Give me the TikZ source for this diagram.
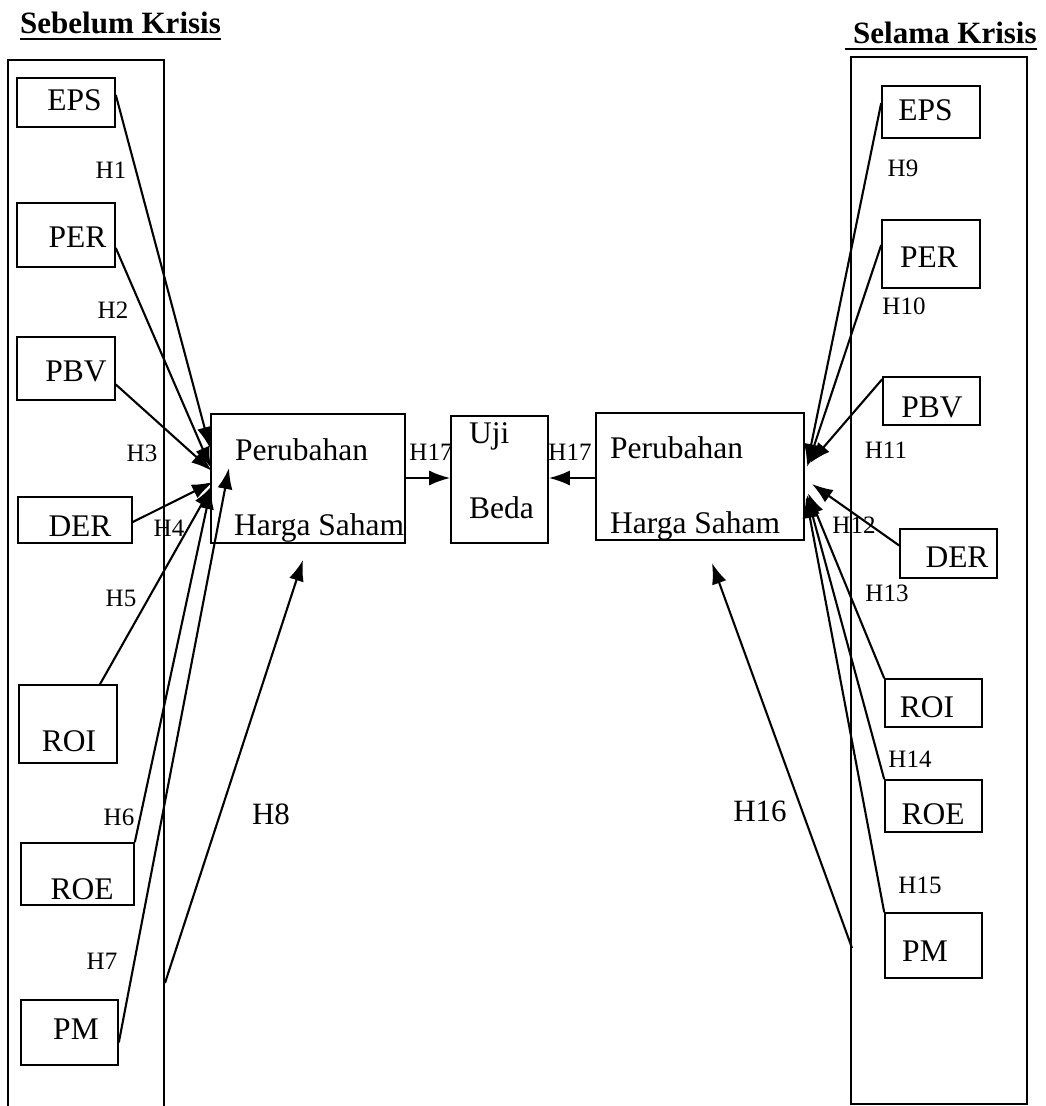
\documentclass[tikz,border=0pt]{standalone}
\usepackage{fontspec}
\setmainfont{Liberation Serif}
\usetikzlibrary{arrows.meta}
\begin{document}
\begin{tikzpicture}[x=1pt,y=-1pt,
  box/.style={draw,line width=1.6pt,inner sep=0pt,rectangle},
  btxt/.style={font=\fontsize{31.5}{36}\selectfont,inner sep=0pt},
  hl/.style={font=\fontsize{25}{30}\selectfont,inner sep=0pt},
  hbig/.style={font=\fontsize{31}{36}\selectfont,inner sep=0pt},
  ttl/.style={font=\bfseries\fontsize{31}{36}\selectfont,inner sep=0pt},
  arr/.style={line width=2.1pt,-{Latex[length=21pt,width=15pt]}},
]
\fill[white] (0,0) rectangle (1045,1106);
\useasboundingbox (0,0) rectangle (1045,1106);

% titles
\node[ttl,anchor=base west] (t1) at (20,33) {Sebelum Krisis};
\draw[line width=2pt] ([yshift=-6pt]t1.base west) -- ([yshift=-6pt]t1.base east);
\node[ttl,anchor=base west] (t2) at (853,43) {Selama Krisis};
\draw[line width=2pt] ([yshift=-6pt,xshift=-8pt]t2.base west) -- ([yshift=-6pt]t2.base east);

% outer boxes
\node[box,minimum width=156pt,minimum height=1060pt] (leftouter) at (86,590) {};
\node[box,minimum width=176pt,minimum height=1047pt] (rightouter) at (939,580.5) {};

% left boxes
\node[box,minimum width=98pt,minimum height=49pt] (epsL) at (66,102.5) {};
\node[box,minimum width=98pt,minimum height=64pt] (perL) at (66,235) {};
\node[box,minimum width=98pt,minimum height=63pt] (pbvL) at (66,368.5) {};
\node[box,minimum width=114pt,minimum height=46pt] (derL) at (75,520) {};
\node[box,minimum width=98pt,minimum height=78pt] (roiL) at (68,724) {};
\node[box,minimum width=113pt,minimum height=62pt] (roeL) at (77.5,874) {};
\node[box,minimum width=97pt,minimum height=65pt] (pmL) at (69.5,1032.5) {};
\node[btxt] (epsLt) at (74.5,100) {EPS};
\node[btxt] (perLt) at (77.5,237) {PER};
\node[btxt] (pbvLt) at (76,371) {PBV};
\node[btxt] (derLt) at (80,526) {DER};
\node[btxt] (roiLt) at (69,741) {ROI};
\node[btxt] (roeLt) at (82,889) {ROE};
\node[btxt] (pmLt) at (76,1029) {PM};

% right boxes
\node[box,minimum width=98pt,minimum height=52pt] (epsR) at (931,112) {};
\node[box,minimum width=98pt,minimum height=68pt] (perR) at (931,254) {};
\node[box,minimum width=97pt,minimum height=48pt] (pbvR) at (931.5,401) {};
\node[box,minimum width=97pt,minimum height=49pt] (derR) at (948.5,553.5) {};
\node[box,minimum width=97pt,minimum height=48pt] (roiR) at (933.5,703) {};
\node[box,minimum width=97pt,minimum height=52pt] (roeR) at (933.5,806) {};
\node[box,minimum width=97pt,minimum height=65pt] (pmR) at (933.5,945.5) {};
\node[btxt] (epsRt) at (925.5,110) {EPS};
\node[btxt] (perRt) at (929,257) {PER};
\node[btxt] (pbvRt) at (932,407) {PBV};
\node[btxt] (derRt) at (957,557) {DER};
\node[btxt] (roiRt) at (927,707) {ROI};
\node[btxt] (roeRt) at (933,814) {ROE};
\node[btxt] (pmRt) at (925,951) {PM};

% centre boxes
\node[box,minimum width=194pt,minimum height=129pt] (lp) at (308,478.5) {};
\node[box,minimum width=97pt,minimum height=127pt] (uji) at (499.5,479.5) {};
\node[box,minimum width=208pt,minimum height=127pt] (rp) at (700,476.5) {};
\node[btxt,anchor=base west] (lpt1) at (235,460) {Perubahan};
\node[btxt,anchor=base west] (lpt2) at (234,535) {Harga Saham};
\node[btxt,anchor=base west] (rpt1) at (610,458) {Perubahan};
\node[btxt,anchor=base west] (rpt2) at (610,533) {Harga Saham};
\node[btxt,anchor=base west] (ujit1) at (469,443) {Uji};
\node[btxt,anchor=base west] (ujit2) at (469,518) {Beda};

% hypothesis labels
\node[hl] (h1) at (111,170) {H1};
\node[hl] (h2) at (113,310) {H2};
\node[hl] (h3) at (142,453) {H3};
\node[hl] (h4) at (169,528) {H4};
\node[hl] (h5) at (121,598) {H5};
\node[hl] (h6) at (119,817) {H6};
\node[hl] (h7) at (102,961) {H7};
\node[hbig] (h8) at (271,814) {H8};
\node[hl] (h17a) at (431,452) {H17};
\node[hl] (h17b) at (570,452) {H17};
\node[hl] (h9) at (903,168) {H9};
\node[hl] (h10) at (904,306) {H10};
\node[hl] (h11) at (886,450) {H11};
\node[hl] (h12) at (854,525) {H12};
\node[hl] (h13) at (887,593) {H13};
\node[hl] (h14) at (910,759) {H14};
\node[hl] (h15) at (920,885) {H15};
\node[hbig] (h16) at (760,811) {H16};

% arrow end coordinates
\coordinate (tEPSL) at (210,448);
\coordinate (tPERL) at (211,468);
\coordinate (tPBVL) at (212,471);
\coordinate (tDERL) at (213,482);
\coordinate (tROIL) at (212,486);
\coordinate (tROEL) at (211,488);
\coordinate (tPML) at (229,468);
\coordinate (sH8) at (165,983);
\coordinate (tH8) at (303,560);
\coordinate (tEPSR) at (807,465);
\coordinate (tPERR) at (807,467);
\coordinate (tPBVR) at (810,463);
\coordinate (tDERR) at (812,484);
\coordinate (tROIR) at (808,493);
\coordinate (tROER) at (807,495);
\coordinate (tPMR) at (806,497);
\coordinate (sH16) at (852,948);
\coordinate (tH16) at (712,563);

% left arrows
\draw[arr] ([yshift=7.5pt]epsL.east) -- (tEPSL);
\draw[arr] ([yshift=-13pt]perL.east) -- (tPERL);
\draw[arr] ([yshift=-16pt]pbvL.east) -- (tPBVL);
\draw[arr] ([yshift=-2pt]derL.east) -- (tDERL);
\draw[arr] ([xshift=32pt]roiL.north) -- (tROIL);
\draw[arr] (roeL.north east) -- (tROEL);
\draw[arr] ([yshift=-10pt]pmL.east) -- (tPML);
\draw[arr] (sH8) -- (tH8);

% right arrows
\draw[arr] ([yshift=9pt]epsR.west) -- (tEPSR);
\draw[arr] ([yshift=9pt]perR.west) -- (tPERR);
\draw[arr] ([yshift=-3pt]pbvR.north west) -- (tPBVR);
\draw[arr] ([yshift=8pt]derR.west) -- (tDERR);
\draw[arr] (roiR.north west) -- (tROIR);
\draw[arr] (roeR.north west) -- (tROER);
\draw[arr] (pmR.north west) -- (tPMR);
\draw[arr] (sH16) -- (tH16);

% Uji Beda arrows
\draw[arr] (lp.east |- 0,478) -- (uji.west |- 0,478);
\draw[arr] (rp.west |- 0,478) -- (uji.east |- 0,478);
\end{tikzpicture}
\end{document}
